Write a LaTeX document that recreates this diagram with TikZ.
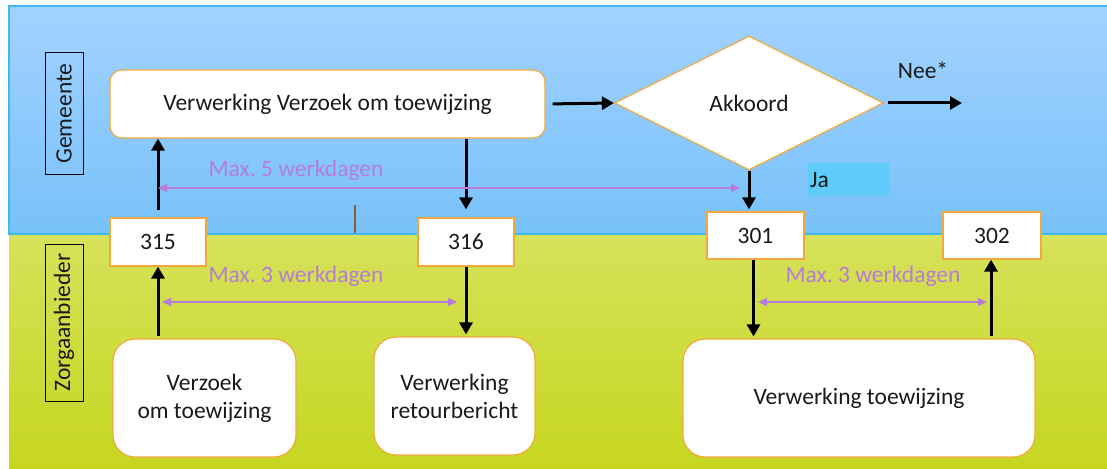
\documentclass[tikz,border=0pt]{standalone}
\usepackage{fontspec}
\setmainfont{Carlito}
\frenchspacing
\usetikzlibrary{shapes.geometric,arrows.meta,calc}
\definecolor{bluetop}{HTML}{A2D2FF}
\definecolor{bluebot}{HTML}{78C1FA}
\definecolor{blueline}{HTML}{3DB8F5}
\definecolor{greentop}{HTML}{D6E25A}
\definecolor{greenbot}{HTML}{C6D620}
\definecolor{boxline}{HTML}{F2A93B}
\definecolor{purp}{HTML}{B77CD6}
\definecolor{jacyan}{HTML}{5FCBFA}
\definecolor{tick}{HTML}{8B5A3C}
\definecolor{txt}{HTML}{1A1A1A}
\begin{document}
\begin{tikzpicture}[x=1pt,y=-1pt,
  every node/.style={font=\fontsize{23.5}{28}\selectfont, text=txt},
  rbox/.style={draw=boxline, line width=1.2pt, fill=white, rounded corners=12pt, align=center, inner sep=0pt},
  numbox/.style={draw=boxline, line width=1.2pt, fill=white, inner sep=0pt, minimum width=96pt, minimum height=48pt},
  lanelabel/.style={draw=black, line width=1pt, inner sep=0pt, rotate=90},
  arr/.style={line width=3pt, draw=black, -{Triangle[length=12pt,width=13pt]}},
  parr/.style={line width=1.3pt, draw=purp, {Triangle[length=9pt,width=8pt]}-{Triangle[length=9pt,width=8pt]}},
  plabel/.style={text=purp}
]
\useasboundingbox (0,0) rectangle (1107,468);
\fill[white] (0,0) rectangle (1107,468);
% lanes
\shade[top color=bluetop, bottom color=bluebot] (9,6) rectangle (1107,234);
\shade[top color=greentop, bottom color=greenbot] (9,234) rectangle (1107,468);
\draw[blueline, line width=1.2pt] (1107,6) -- (9,6) -- (9,234) -- (1107,234);
% lane labels
\node[lanelabel, minimum width=121pt, minimum height=38pt] (gem) at (64,113.5) {Gemeente};
\node[lanelabel, minimum width=157pt, minimum height=38pt] (zorg) at (64,322.5) {Zorgaanbieder};
% boxes
\node[rbox, minimum width=435pt, minimum height=68pt] (main) at (327.5,104) {Verwerking Verzoek om toewijzing};
\node[diamond, draw=boxline, line width=1.2pt, fill=white, aspect=2, inner sep=0pt, minimum width=269pt, minimum height=134pt] (dia) at (749,103) {Akkoord};
\node[numbox] (n315) at (158,242) {315};
\node[numbox] (n316) at (466,242) {316};
\node[numbox, minimum width=97pt, minimum height=47pt] (n301) at (755.5,235.5) {301};
\node[numbox, minimum width=98pt, minimum height=47pt] (n302) at (992,235.5) {302};
\node[rbox, minimum width=183pt, minimum height=118pt, rounded corners=22pt] (verzoek) at (204.5,398) {Verzoek\\om toewijzing};
\node[rbox, minimum width=161pt, minimum height=118pt, rounded corners=22pt] (retour) at (454.5,396) {Verwerking\\retourbericht};
\node[rbox, minimum width=352pt, minimum height=118pt, rounded corners=22pt] (toew) at (859,398) {Verwerking toewijzing};
% Ja and Nee
\node[fill=jacyan, anchor=north west, minimum width=81pt, minimum height=33pt, text width=77pt, align=left, inner sep=2pt] (ja) at (808,163) {Ja};
\coordinate (neeend) at (962,103);
\node (nee) at (923,70) {Nee*};
% black arrows
\draw[arr, shorten <=7pt] (n315.north) -- (n315.north |- main.south);
\draw[arr, shorten <=2pt] (n315.south |- verzoek.north) -- (n315.south);
\draw[arr, shorten >=8pt] (main.south -| n316.north) -- (n316.north);
\draw[arr, shorten >=2pt] (n316.south) -- (n316.south |- retour.north);
\draw[arr, shorten <=7pt] (main.east) -- (dia.west);
\draw[arr, shorten <=4pt] (dia.east) -- (neeend);
\draw[arr, shorten >=2pt] (dia.south) -- (dia.south |- n301.north);
\draw[arr, shorten >=2pt] ([xshift=-2pt]n301.south) -- ([xshift=-2pt]n301.south |- toew.north);
\draw[arr, shorten <=2pt] ([xshift=-1pt]n302.south |- toew.north) -- ([xshift=-1pt]n302.south);
% purple durations
\coordinate (p5a) at (158,188); \coordinate (p5b) at (740,188);
\coordinate (p3a) at (162,302); \coordinate (p3b) at (457,302);
\coordinate (p3c) at (758,302); \coordinate (p3d) at (987,302);
\draw[parr] (p5a) -- (p5b);
\draw[parr] (p3a) -- (p3b);
\draw[parr] (p3c) -- (p3d);
\node[plabel] (l5) at (296,170) {Max. 5 werkdagen};
\node[plabel] (l3a) at (296,276) {Max. 3 werkdagen};
\node[plabel] (l3b) at (873,276) {Max. 3 werkdagen};
% brown tick
\draw[tick, line width=1.3pt] (355,205) -- (355,233);
\end{tikzpicture}
\end{document}
